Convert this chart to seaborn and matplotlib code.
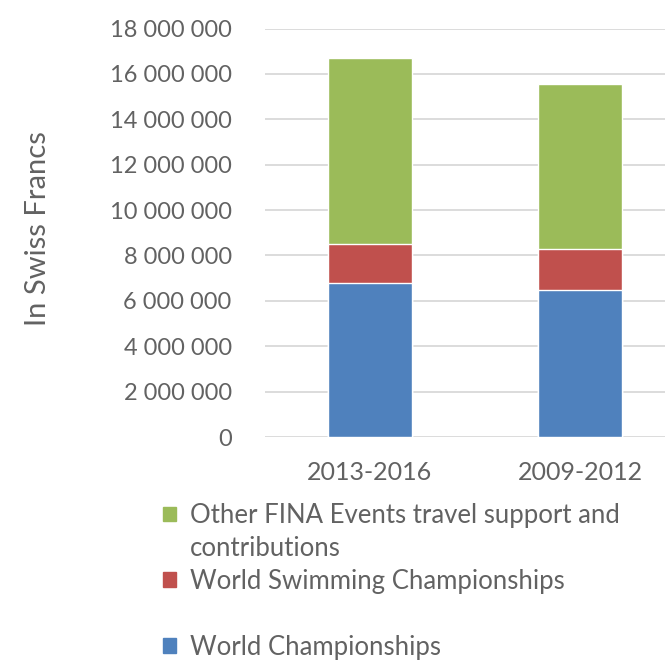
import pandas as pd
import seaborn as sns
import matplotlib.pyplot as plt
from matplotlib.patches import Patch
from matplotlib.ticker import FuncFormatter

periods = ['2013-2016', '2009-2012']
world_champs = [6770000, 6480000]
world_swimming = [1730000, 1800000]
other_events = [8180000, 7270000]

series_labels = ['World Championships', 'World Swimming Championships',
                 'Other FINA Events travel support and contributions']

df = pd.DataFrame({'period': periods,
                   'blue': world_champs,
                   'red': world_swimming,
                   'green': other_events})
df['lvl1'] = df['blue']
df['lvl2'] = df['blue'] + df['red']
df['lvl3'] = df['lvl2'] + df['green']

sns.set_theme(style='white')
plt.rcParams['font.family'] = ['Lato', 'DejaVu Sans']

text_grey = '#626262'
c_blue = '#4F81BD'
c_red = '#C0504D'
c_green = '#9BBB59'

fig = plt.figure(figsize=(6.65, 6.6), dpi=100)
ax = fig.add_axes([265 / 665, 1 - 437 / 660, 420 / 665, (437 - 28.5) / 660])

# stacked look: draw cumulative totals from the top layer down
sns.barplot(data=df, x='period', y='lvl3', color=c_green, width=0.4,
            saturation=1, ax=ax, zorder=3)
sns.barplot(data=df, x='period', y='lvl2', color=c_red, width=0.4,
            saturation=1, ax=ax, zorder=3)
sns.barplot(data=df, x='period', y='lvl1', color=c_blue, width=0.4,
            saturation=1, ax=ax, zorder=3)

ax.set_ylim(0, 18000000)
ax.set_xlim(-0.5, 1.5)
ax.set_yticks(range(0, 18000001, 2000000))
ax.yaxis.set_major_formatter(FuncFormatter(lambda v, p: f'{int(v):,}'.replace(',', ' ')))
ax.yaxis.grid(True, color='#D9D9D9', linewidth=1.3, zorder=0)
ax.set_axisbelow(True)
for s in ax.spines.values():
    s.set_visible(False)
ax.tick_params(axis='y', length=0, pad=24, labelsize=17, labelcolor=text_grey)
ax.tick_params(axis='x', length=0, pad=17, labelsize=18, labelcolor=text_grey)
ax.set_xlabel('')
ax.set_ylabel('')
fig.text(38 / 665, 1 - 229 / 660, 'In Swiss Francs', rotation=90,
         ha='center', va='center', fontsize=21, color=text_grey)

blank = Patch(facecolor='none', edgecolor='none')
handles = [Patch(color=c_green), blank, Patch(color=c_red), blank, Patch(color=c_blue)]
labels = ['Other FINA Events travel support and', 'contributions',
          'World Swimming Championships', ' ', 'World Championships']
fig.legend(handles, labels, loc='upper left', bbox_to_anchor=(163 / 665, 1 - 503 / 660),
           frameon=False, fontsize=18.5, labelcolor=text_grey, handlelength=0.5,
           handleheight=0.5, handletextpad=0.55, labelspacing=0.31, borderaxespad=0,
           borderpad=0)

fig.savefig('out.png', dpi=100)
